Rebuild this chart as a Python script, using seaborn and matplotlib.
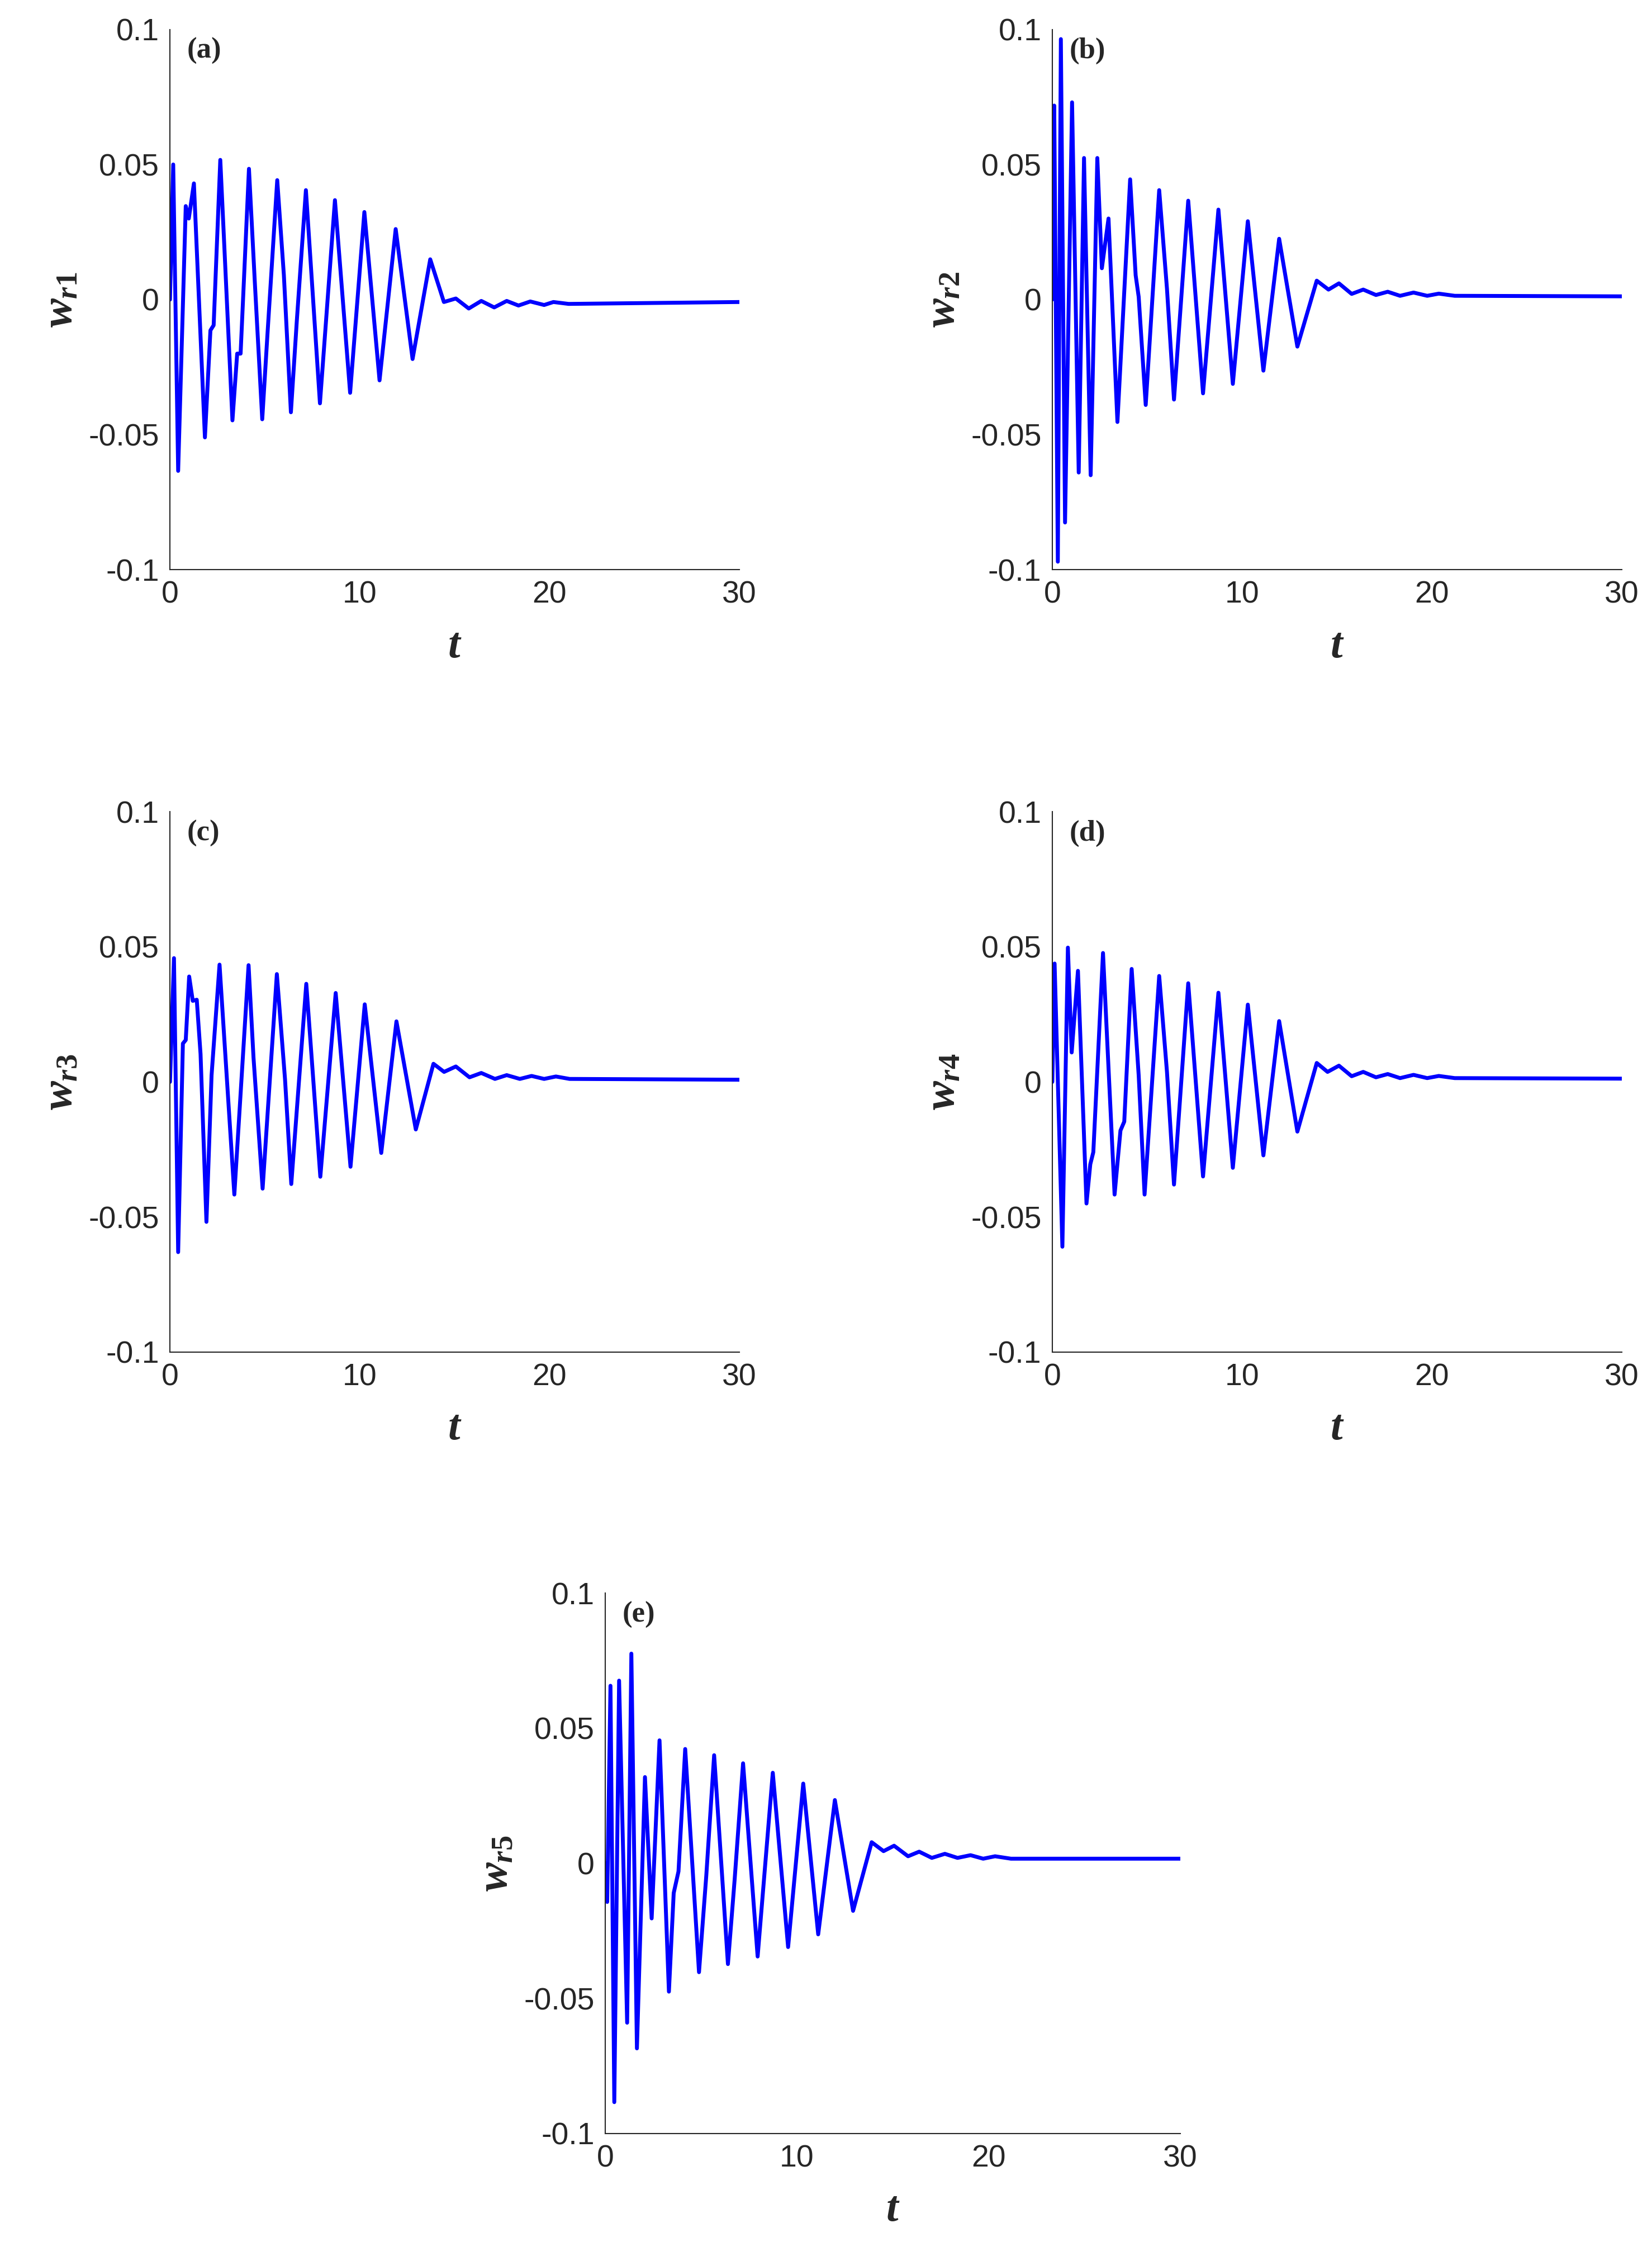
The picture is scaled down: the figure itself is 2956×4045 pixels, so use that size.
import numpy as np
import pandas as pd
import matplotlib
matplotlib.use("Agg")
import matplotlib.pyplot as plt
import seaborn as sns

sns.set_style("white")
plt.rcParams['font.family'] = ['Liberation Sans', 'DejaVu Sans']
plt.rcParams['mathtext.fontset'] = 'custom'
plt.rcParams['mathtext.it'] = 'Liberation Serif:italic:bold'
plt.rcParams['mathtext.rm'] = 'Liberation Serif:bold'

t_a = [0, .17, .43, .83, .99, 1.26, 1.84, 2.13, 2.30, 2.65, 3.29, 3.54, 3.72, 4.16, 4.47, 4.86, 5.13, 5.65, 6.0, 6.37, 6.68, 7.16, 7.90, 8.69, 9.49, 10.24, 11.04, 11.89, 12.78, 13.71, 14.43, 15.06, 15.74, 16.40, 17.08, 17.74, 18.36, 18.98, 19.71, 20.2, 21.0, 30]
w_a = [0, .05, -.0634, .0346, .030, .043, -.051, -.0114, -.0095, .0517, -.0447, -.020, -.020, .0484, .0063, -.0443, -.0134, .0442, .009, -.0417, -.008, .0405, -.0384, .0368, -.0345, .0324, -.0299, .0261, -.022, .0149, -.0009, .0004, -.0033, -.0005, -.0029, -.0005, -.0022, -.0007, -.002, -.0009, -.0016, -.0009]

t_b = [0, .10, .29, .45, .67, 1.04, 1.39, 1.67, 2.02, 2.37, 2.61, 2.96, 3.43, 4.10, 4.39, 4.55, 4.92, 5.63, 6.04, 6.41, 7.16, 7.94, 8.75, 9.51, 10.30, 11.12, 11.95, 12.91, 13.93, 14.55, 15.1, 15.77, 16.38, 17.05, 17.67, 18.32, 19.03, 19.75, 20.36, 21.2, 30]
w_b = [0, .0718, -.097, .0964, -.0825, .073, -.064, .0524, -.065, .0524, .0116, .030, -.0453, .0445, .009, .001, -.039, .0405, .004, -.037, .0366, -.0347, .0333, -.0312, .029, -.0263, .0225, -.0174, .007, .0037, .006, .0021, .0037, .0017, .0029, .0014, .0026, .0014, .0022, .0014, .0012]

t_c = [0, .21, .43, .68, .83, 1.01, 1.20, 1.41, 1.61, 1.92, 2.19, 2.61, 3.39, 4.14, 4.40, 4.88, 5.63, 6.06, 6.39, 7.18, 7.92, 8.73, 9.51, 10.26, 11.13, 11.93, 12.95, 13.88, 14.44, 15.06, 15.78, 16.40, 17.12, 17.74, 18.43, 19.05, 19.71, 20.33, 21.05, 30]
w_c = [0, .0458, -.063, .0142, .0155, .039, .030, .0304, .0103, -.0518, .0024, .0434, -.0417, .0432, .009, -.0395, .0399, .001, -.0378, .0363, -.0351, .0329, -.0314, .0287, -.0263, .0224, -.0176, .0067, .0037, .0057, .0017, .0033, .0011, .0025, .0011, .0022, .0011, .002, .0011, .0008]

t_d = [0, .12, .53, .82, 1.02, 1.35, 1.80, 2.00, 2.16, 2.67, 3.28, 3.59, 3.79, 4.18, 4.55, 4.86, 5.63, 6.04, 6.41, 7.16, 7.94, 8.75, 9.51, 10.30, 11.12, 11.95, 12.91, 13.93, 14.50, 15.1, 15.77, 16.38, 17.05, 17.67, 18.32, 19.03, 19.75, 20.36, 21.2, 30]
w_d = [0, .0438, -.061, .0497, .0109, .0411, -.045, -.0305, -.026, .0477, -.0417, -.018, -.0147, .0418, .0024, -.0417, .0392, .0037, -.038, .0365, -.035, .033, -.0318, .0286, -.0272, .0225, -.0184, .007, .0037, .006, .0021, .0037, .0017, .0029, .0014, .0026, .0014, .0022, .0014, .0012]

t_e = [0, .10, .27, .47, .72, 1.14, 1.36, 1.65, 2.07, 2.42, 2.83, 3.32, 3.57, 3.82, 4.17, 4.89, 5.27, 5.68, 6.40, 6.75, 7.19, 7.95, 8.74, 9.54, 10.33, 11.11, 11.98, 12.93, 13.90, 14.52, 15.07, 15.80, 16.38, 17.04, 17.72, 18.38, 19.06, 19.72, 20.34, 21.17, 30]
w_e = [0, -.0143, .0657, -.0884, .0676, -.059, .0776, -.0685, .0319, -.0204, .0455, -.0475, -.011, -.003, .0423, -.0403, -.0046, .040, -.0373, -.006, .037, -.0345, .0335, -.031, .0295, -.0263, .0234, -.0176, .0078, .0045, .0065, .0026, .0043, .002, .0035, .002, .003, .0017, .0026, .0017, .0017]

panels = ["(a)", "(b)", "(c)", "(d)", "(e)"]
ylabels = [r"$w_{r1}$", r"$w_{r2}$", r"$w_{r3}$", r"$w_{r4}$", r"$w_{r5}$"]
xticks = [0, 10, 20, 30]
yticks = [-0.1, -0.05, 0, 0.05, 0.1]
yticklabels = ["-0.1", "-0.05", "0", "0.05", "0.1"]
series = [(t_a, w_a), (t_b, w_b), (t_c, w_c), (t_d, w_d), (t_e, w_e)]

W, H = 2956, 4045
fig = plt.figure(figsize=(W / 100, H / 100), dpi=100)
rects = [
    [0.1029, 0.748, 0.3447, 0.239],
    [0.637, 0.748, 0.3447, 0.239],
    [0.1029, 0.402, 0.3447, 0.239],
    [0.637, 0.402, 0.3447, 0.239],
    [0.3664, 0.0564, 0.348, 0.239],
]
for i, (t, w) in enumerate(series):
    ax = fig.add_axes(rects[i])
    df = pd.DataFrame({"t": t, "w": w})
    sns.lineplot(data=df, x="t", y="w", ax=ax, color="#0000FF", linewidth=5, estimator=None, sort=False)
    ax.set_xlim(0, 30)
    ax.set_ylim(-0.1, 0.1)
    ax.set_xticks(xticks)
    ax.set_xticklabels([str(x) for x in xticks])
    ax.set_yticks(yticks)
    ax.set_yticklabels(yticklabels)
    for s in ["top", "right"]:
        ax.spines[s].set_visible(False)
    for s in ["left", "bottom"]:
        ax.spines[s].set_color("#262626")
        ax.spines[s].set_linewidth(1.5)
    ax.tick_params(direction="in", length=12, width=1.5, labelsize=40, colors="#262626", pad=14)
    ax.set_xlabel(r"$t$", fontsize=56, labelpad=20)
    ax.set_ylabel(ylabels[i], fontsize=56, labelpad=10)
    ax.text(0.03, 0.985, panels[i], transform=ax.transAxes, ha="left", va="top",
            fontsize=38, fontweight="bold", family="Liberation Serif")

fig.savefig("out.png", dpi=100, facecolor="white")
